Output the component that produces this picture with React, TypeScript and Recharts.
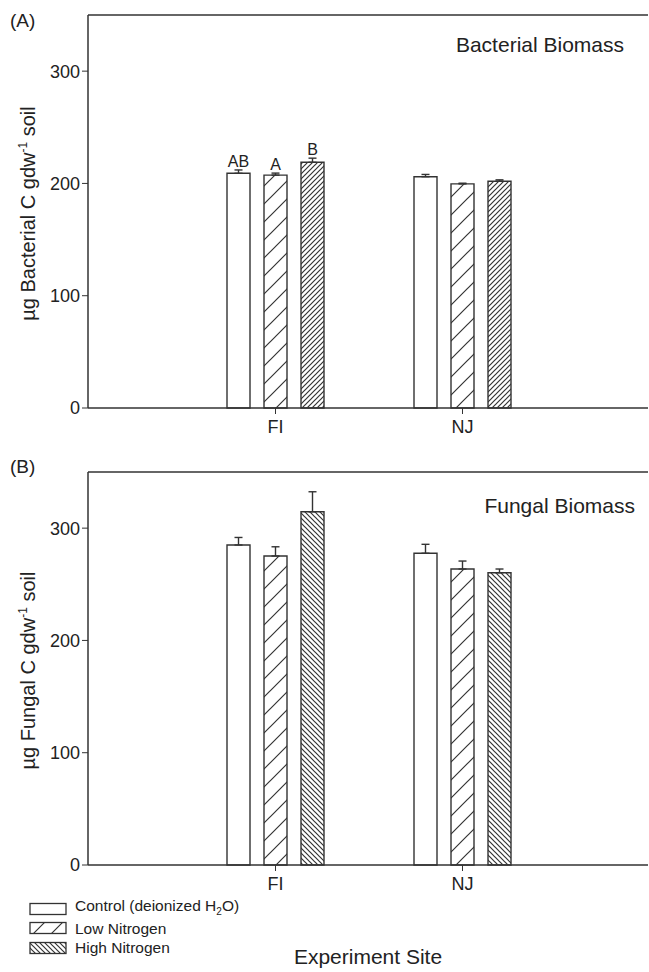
import React from "react";
import {
  BarChart,
  Bar,
  XAxis,
  YAxis,
  ErrorBar,
  LabelList,
  ReferenceLine,
  Legend,
  Label,
} from "recharts";

const sites = ["FI", "NJ"];
const treatments = ["Control (deionized H2O)", "Low Nitrogen", "High Nitrogen"];
const yTicks = [0, 100, 200, 300];
const yMax = 350;

// (A) bacterial biomass
const bacterialControl = [209, 206];
const bacterialControlErr = [3, 2];
const bacterialLow = [207.4, 199.6];
const bacterialLowErr = [1.8, 0.6];
const bacterialHigh = [218.8, 202];
const bacterialHighErr = [3.7, 1.2];
const controlLetters = ["AB", ""];
const lowLetters = ["A", ""];
const highLetters = ["B", ""];

// (B) fungal biomass
const fungalControl = [285, 277.6];
const fungalControlErr = [6.7, 8];
const fungalLow = [275.2, 263.6];
const fungalLowErr = [8.2, 7.1];
const fungalHigh = [314.6, 260.3];
const fungalHighErr = [17.8, 3.3];

const ink = "#333";
const textColor = "#222";

const bacterialRows = sites.map((site, i) => ({
  site,
  control: bacterialControl[i],
  controlErr: [0, bacterialControlErr[i]],
  controlLetter: controlLetters[i],
  low: bacterialLow[i],
  lowErr: [0, bacterialLowErr[i]],
  lowLetter: lowLetters[i],
  high: bacterialHigh[i],
  highErr: [0, bacterialHighErr[i]],
  highLetter: highLetters[i],
}));

const fungalRows = sites.map((site, i) => ({
  site,
  control: fungalControl[i],
  controlErr: [0, fungalControlErr[i]],
  low: fungalLow[i],
  lowErr: [0, fungalLowErr[i]],
  high: fungalHigh[i],
  highErr: [0, fungalHighErr[i]],
}));

// letter sits just above the error bar cap
const letterContent = (values: number[], errs: number[]) => (props: any) => {
  const vb = props.viewBox || props;
  const i = props.index ?? 0;
  if (!props.value) return null;
  const pxPerUnit = vb.height / values[i];
  const top = vb.y - errs[i] * pxPerUnit;
  return (
    <text
      x={vb.x + vb.width / 2}
      y={top - 3}
      textAnchor="middle"
      fontSize={16}
      fill={textColor}
    >
      {props.value}
    </text>
  );
};

const yLabel = (name: string) => (props: any) => {
  const vb = props.viewBox;
  const bx = vb.x + 7;
  const cy = vb.y + vb.height / 2 + 2;
  return (
    <text
      x={bx}
      y={cy}
      transform={`rotate(-90, ${bx}, ${cy})`}
      textAnchor="middle"
      fontSize={20}
      fill={textColor}
    >
      <tspan>{`\u00b5g ${name} C gdw`}</tspan>
      <tspan dy={-8} fontSize={12}>
        -1
      </tspan>
      <tspan dy={8}> soil</tspan>
    </text>
  );
};

const titleLabel = (text: string, dx: number, dy: number) => (props: any) => {
  const vb = props.viewBox;
  return (
    <text
      x={vb.x + vb.width - dx}
      y={vb.y + dy}
      textAnchor="end"
      fontSize={21}
      fill={textColor}
    >
      {text}
    </text>
  );
};

const withSub = (name: string) => {
  const k = name.indexOf("H2O");
  if (k < 0) return name;
  return (
    <>
      {name.slice(0, k)}H<sub style={{ fontSize: 10 }}>2</sub>O{name.slice(k + 3)}
    </>
  );
};

const legendFills = ["#fff", "url(#lowB)", "url(#highB)"];

const renderLegend = () => (
  <div style={{ fontSize: 15.5, color: textColor }}>
    {treatments.map((t, i) => (
      <div
        key={t}
        style={{ display: "flex", alignItems: "center", height: 19.5 }}
      >
        <svg width={40} height={14}>
          <rect
            x={2}
            y={1.5}
            width={36}
            height={11}
            fill={legendFills[i]}
            stroke={ink}
            strokeWidth={1.3}
          />
        </svg>
        <span style={{ marginLeft: 7, lineHeight: "19px" }}>{withSub(t)}</span>
      </div>
    ))}
  </div>
);

const hatch = (id: string, size: number, up: boolean) => (
  <pattern id={id} patternUnits="userSpaceOnUse" width={size} height={size}>
    <path
      d={
        up
          ? `M0,${size} L${size},0 M-2,2 L2,-2 M${size - 2},${size + 2} L${size + 2},${size - 2}`
          : `M0,0 L${size},${size} M-2,${size - 2} L2,${size + 2} M${size - 2},-2 L${size + 2},2`
      }
      stroke={ink}
      strokeWidth={1.2}
    />
  </pattern>
);

const axisProps = {
  stroke: ink,
  strokeWidth: 1.5,
};

export default function App() {
  const common = {
    barSize: 23,
    barGap: 14,
  };
  return (
    <div
      style={{
        position: "absolute",
        left: 0,
        top: 0,
        width: 649,
        height: 972,
        background: "#fff",
        fontFamily: "'Liberation Sans', Arial, sans-serif",
      }}
    >
      <div style={{ position: "absolute", left: 10, top: 10, fontSize: 19, color: textColor }}>
        (A)
      </div>
      <div style={{ position: "absolute", left: 10, top: 456, fontSize: 19, color: textColor }}>
        (B)
      </div>

      <div style={{ position: "absolute", left: 0, top: 0 }}>
        <BarChart
          width={649}
          height={440}
          data={bacterialRows}
          margin={{ top: 15, right: 1, bottom: 2, left: 28 }}
          {...common}
        >
          <defs>
            {hatch("lowA", 18, true)}
            {hatch("highA", 5, true)}
          </defs>
          <XAxis
            dataKey="site"
            padding={{ left: 94, right: 92 }}
            height={30}
            tickSize={6}
            tickMargin={6}
            axisLine={axisProps}
            tickLine={{ stroke: ink }}
            tick={{ fill: textColor, fontSize: 18 }}
          />
          <YAxis
            domain={[0, yMax]}
            ticks={yTicks}
            width={60}
            tickSize={6}
            tickMargin={2}
            axisLine={axisProps}
            tickLine={{ stroke: ink }}
            tick={{ fill: textColor, fontSize: 18 }}
          >
            <Label content={yLabel("Bacterial")} />
          </YAxis>
          <ReferenceLine
            y={yMax}
            stroke={ink}
            strokeWidth={1.5}
            label={titleLabel("Bacterial Biomass", 24, 37)}
          />
          <Bar dataKey="control" fill="#fff" stroke={ink} strokeWidth={1.4} isAnimationActive={false}>
            <ErrorBar dataKey="controlErr" width={4} stroke={ink} strokeWidth={1.4} />
            <LabelList dataKey="controlLetter" content={letterContent(bacterialControl, bacterialControlErr)} />
          </Bar>
          <Bar dataKey="low" fill="url(#lowA)" stroke={ink} strokeWidth={1.4} isAnimationActive={false}>
            <ErrorBar dataKey="lowErr" width={4} stroke={ink} strokeWidth={1.4} />
            <LabelList dataKey="lowLetter" content={letterContent(bacterialLow, bacterialLowErr)} />
          </Bar>
          <Bar dataKey="high" fill="url(#highA)" stroke={ink} strokeWidth={1.4} isAnimationActive={false}>
            <ErrorBar dataKey="highErr" width={4} stroke={ink} strokeWidth={1.4} />
            <LabelList dataKey="highLetter" content={letterContent(bacterialHigh, bacterialHighErr)} />
          </Bar>
        </BarChart>
      </div>

      <div style={{ position: "absolute", left: 0, top: 457 }}>
        <BarChart
          width={649}
          height={515}
          data={fungalRows}
          margin={{ top: 15, right: 1, bottom: 77, left: 28 }}
          {...common}
        >
          <defs>
            {hatch("lowB", 18, true)}
            {hatch("highB", 5, false)}
          </defs>
          <XAxis
            dataKey="site"
            padding={{ left: 94, right: 92 }}
            height={30}
            tickSize={6}
            tickMargin={6}
            axisLine={axisProps}
            tickLine={{ stroke: ink }}
            tick={{ fill: textColor, fontSize: 18 }}
          >
            <Label
              value="Experiment Site"
              position="bottom"
              offset={54}
              fontSize={21}
              fill={textColor}
            />
          </XAxis>
          <YAxis
            domain={[0, yMax]}
            ticks={yTicks}
            width={60}
            tickSize={6}
            tickMargin={2}
            axisLine={axisProps}
            tickLine={{ stroke: ink }}
            tick={{ fill: textColor, fontSize: 18 }}
          >
            <Label content={yLabel("Fungal")} />
          </YAxis>
          <ReferenceLine
            y={yMax}
            stroke={ink}
            strokeWidth={1.5}
            label={titleLabel("Fungal Biomass", 13, 41)}
          />
          <Legend
            layout="horizontal"
            verticalAlign="middle"
            align="center"
            wrapperStyle={{ left: 28, top: 442, width: 260 }}
            content={renderLegend}
          />
          <Bar dataKey="control" fill="#fff" stroke={ink} strokeWidth={1.4} isAnimationActive={false}>
            <ErrorBar dataKey="controlErr" width={4} stroke={ink} strokeWidth={1.4} />
          </Bar>
          <Bar dataKey="low" fill="url(#lowB)" stroke={ink} strokeWidth={1.4} isAnimationActive={false}>
            <ErrorBar dataKey="lowErr" width={4} stroke={ink} strokeWidth={1.4} />
          </Bar>
          <Bar dataKey="high" fill="url(#highB)" stroke={ink} strokeWidth={1.4} isAnimationActive={false}>
            <ErrorBar dataKey="highErr" width={4} stroke={ink} strokeWidth={1.4} />
          </Bar>
        </BarChart>
      </div>
    </div>
  );
}
